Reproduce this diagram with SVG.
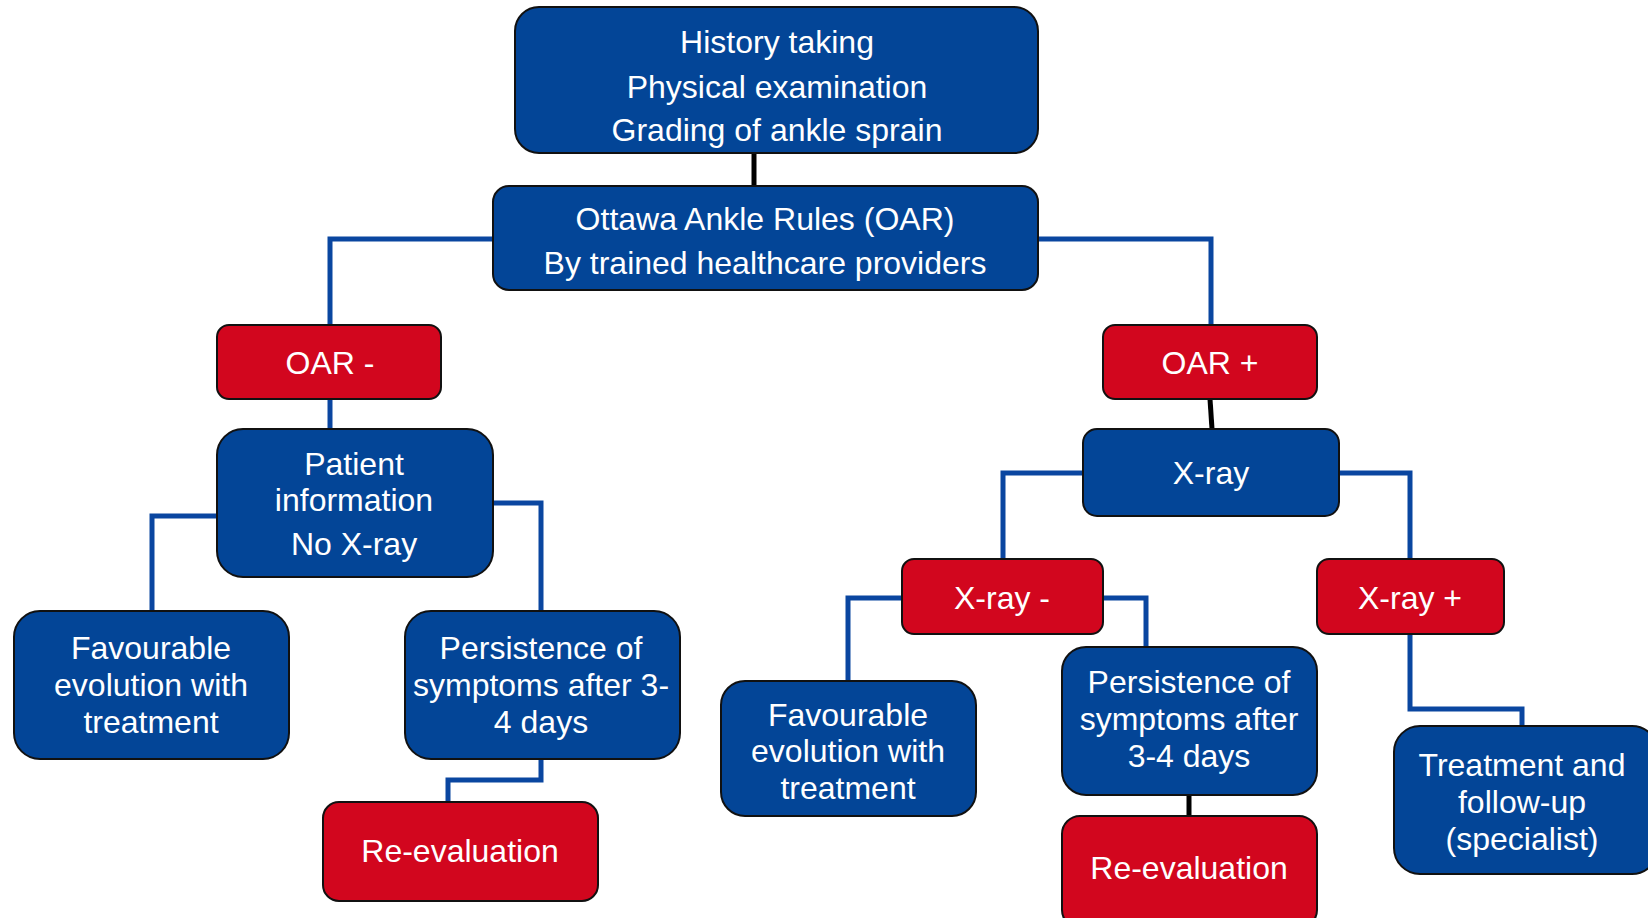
<svg xmlns="http://www.w3.org/2000/svg" width="1648" height="918" viewBox="0 0 1648 918">
<style>
.b{fill:#034597;stroke:#111;stroke-width:2}
.r{fill:#D2061E;stroke:#111;stroke-width:2}
text{font-family:"Liberation Sans",Arial,sans-serif;font-size:32px;fill:#fff;text-anchor:middle}
.c{fill:none;stroke:#0A46A0;stroke-width:5}
.k{fill:none;stroke:#000;stroke-width:5}
</style>
<rect width="1648" height="918" fill="#fff"/>
<g id="connectors">
<path class="k" d="M754 153V186"/>
<path class="c" d="M493 239H330V325"/>
<path class="c" d="M1038 239H1211V325"/>
<path class="c" d="M330 399V429"/>
<path class="c" d="M217 516H152V611"/>
<path class="c" d="M493 503H541V611"/>
<path class="c" d="M541 759V780H448V802"/>
<path class="k" d="M1210 399L1212 429"/>
<path class="c" d="M1083 473H1003V559"/>
<path class="c" d="M1339 473H1410V559"/>
<path class="c" d="M902 598H848V681"/>
<path class="c" d="M1103 598H1146V647"/>
<path class="k" d="M1189 795V816"/>
<path class="c" d="M1410 634V709H1522V726"/>
</g>
<g id="n-history"><rect class="b" x="515" y="7" width="523" height="146" rx="24"/>
<text x="777" y="53">History taking</text><text x="777" y="98">Physical examination</text><text x="777" y="141">Grading of ankle sprain</text></g>
<g id="n-oar"><rect class="b" x="493" y="186" width="545" height="104" rx="16"/>
<text x="765" y="230">Ottawa Ankle Rules (OAR)</text><text x="765" y="274">By trained healthcare providers</text></g>
<g id="n-oarminus"><rect class="r" x="217" y="325" width="224" height="74" rx="12"/>
<text x="330" y="374">OAR -</text></g>
<g id="n-patient"><rect class="b" x="217" y="429" width="276" height="148" rx="26"/>
<text x="354" y="475">Patient</text><text x="354" y="511">information</text><text x="354" y="555">No X-ray</text></g>
<g id="n-fav-left"><rect class="b" x="14" y="611" width="275" height="148" rx="26"/>
<text x="151" y="659">Favourable</text><text x="151" y="696">evolution with</text><text x="151" y="733">treatment</text></g>
<g id="n-pers-left"><rect class="b" x="405" y="611" width="275" height="148" rx="26"/>
<text x="541" y="659">Persistence of</text><text x="541" y="696">symptoms after 3-</text><text x="541" y="733">4 days</text></g>
<g id="n-reeval-left"><rect class="r" x="323" y="802" width="275" height="99" rx="16"/>
<text x="460" y="862">Re-evaluation</text></g>
<g id="n-oarplus"><rect class="r" x="1103" y="325" width="214" height="74" rx="12"/>
<text x="1210" y="374">OAR +</text></g>
<g id="n-xray"><rect class="b" x="1083" y="429" width="256" height="87" rx="14"/>
<text x="1211" y="484">X-ray</text></g>
<g id="n-xrayminus"><rect class="r" x="902" y="559" width="201" height="75" rx="12"/>
<text x="1002" y="609">X-ray -</text></g>
<g id="n-xrayplus"><rect class="r" x="1317" y="559" width="187" height="75" rx="12"/>
<text x="1410" y="609">X-ray +</text></g>
<g id="n-fav-right"><rect class="b" x="721" y="681" width="255" height="135" rx="24"/>
<text x="848" y="726">Favourable</text><text x="848" y="762">evolution with</text><text x="848" y="799">treatment</text></g>
<g id="n-pers-right"><rect class="b" x="1062" y="647" width="255" height="148" rx="24"/>
<text x="1189" y="693">Persistence of</text><text x="1189" y="730">symptoms after</text><text x="1189" y="767">3-4 days</text></g>
<g id="n-reeval-right"><rect class="r" x="1062" y="816" width="255" height="112" rx="18"/>
<text x="1189" y="879">Re-evaluation</text></g>
<g id="n-treatment"><rect class="b" x="1394" y="726" width="264" height="148" rx="26"/>
<text x="1522" y="776">Treatment and</text><text x="1522" y="813">follow-up</text><text x="1522" y="850">(specialist)</text></g>
</svg>
